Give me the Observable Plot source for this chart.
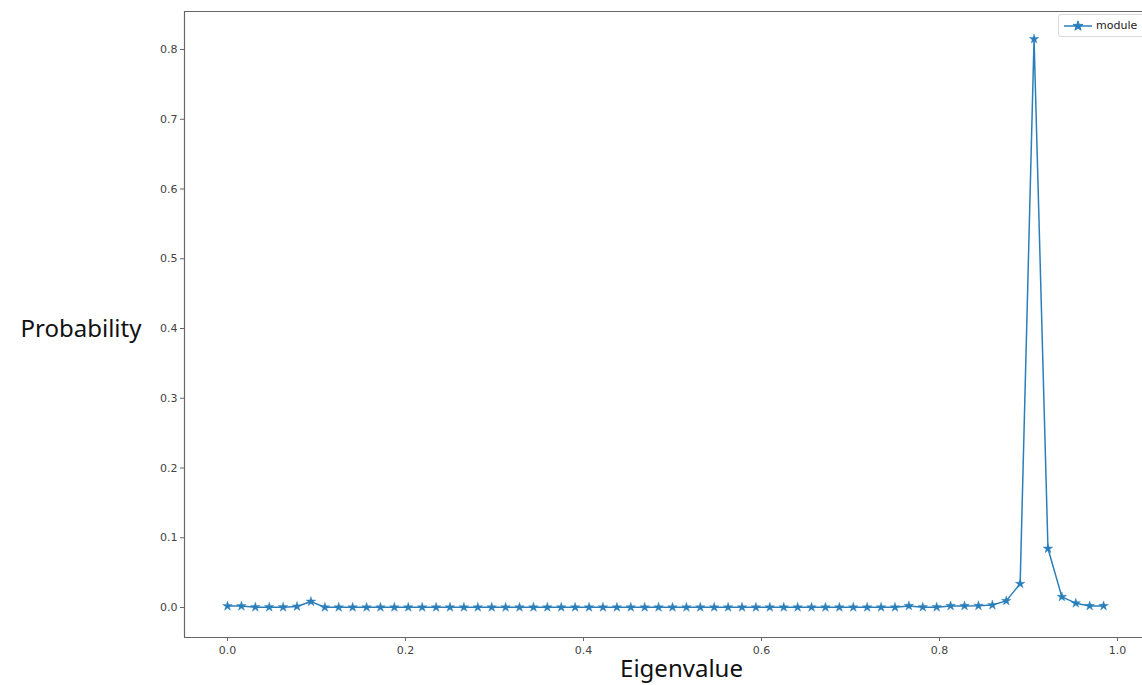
<!DOCTYPE html>
<html>
<head>
<meta charset="utf-8">
<script src="https://cdn.jsdelivr.net/npm/d3@7"></script>
<script src="https://cdn.jsdelivr.net/npm/@observablehq/plot@0.6"></script>
<style>
  html, body { margin: 0; padding: 0; background: #fff; }
  #wrap { position: relative; width: 1142px; height: 685px; overflow: hidden; }
  #legend { position: absolute; left: 1058px; top: 14px; width: 90px; height: 23px;
    border: 1px solid #d9d9d9; border-radius: 3px; background: #fff;
    font-family: "DejaVu Sans", sans-serif; font-size: 11px; color: #222; box-sizing: border-box; }
  #legend svg { position: absolute; left: 4px; top: 3px; }
  #legend span { position: absolute; left: 37px; top: 4px; }
</style>
</head>
<body>
<div id="wrap"><div id="legend"><svg width="30" height="16"><line x1="1" y1="8" x2="29" y2="8" stroke="#2a7fba" stroke-width="1.5"/><path id="legstar" fill="#2a7fba" stroke="#2a7fba"/></svg><span>module</span></div></div>
<script>
// Eigenvalues: k/64 for k = 0..63
const eigenvalues = d3.range(64).map(k => k / 64);
// Probability
const probability = [
  0.002, 0.002, 0.0005, 0.0005, 0.0005, 0.0015, 0.0085, 0.0003, 0.0003, 0.0003,
  0.0003, 0.0003, 0.0003, 0.0003, 0.0003, 0.0003, 0.0003, 0.0003, 0.0003, 0.0003,
  0.0003, 0.0003, 0.0003, 0.0003, 0.0003, 0.0003, 0.0003, 0.0003, 0.0003, 0.0003,
  0.0003, 0.0003, 0.0003, 0.0003, 0.0003, 0.0003, 0.0003, 0.0003, 0.0003, 0.0003,
  0.0003, 0.0003, 0.0003, 0.0003, 0.0003, 0.0003, 0.0003, 0.0003, 0.0003, 0.0023,
  0.0005, 0.0005, 0.0023, 0.0023, 0.0025, 0.0035, 0.0095, 0.034, 0.815, 0.0845,
  0.0153, 0.0062, 0.0023, 0.0023
];
const xTicks = [0, 0.2, 0.4, 0.6, 0.8, 1.0];
const yTicks = [0, 0.1, 0.2, 0.3, 0.4, 0.5, 0.6, 0.7, 0.8];
const seriesName = "module";

const data = eigenvalues.map((e, i) => ({eigenvalue: e, probability: probability[i], series: seriesName}));

const xDomain = [-0.0483, 1.0281];
const yDomain = [-0.043, 0.8545];
const blue = "#2a7fba";
const spine = "#666";

const chart = Plot.plot({
  width: 1142,
  height: 685,
  marginLeft: 184,
  marginRight: 0,
  marginTop: 11,
  marginBottom: 48,
  style: {fontFamily: "DejaVu Sans, sans-serif", fontSize: "11px", color: "#444", background: "#fff"},
  x: {domain: xDomain, ticks: xTicks, tickFormat: d3.format(".1f"), tickSize: 4, tickPadding: 4, label: null},
  y: {domain: yDomain, ticks: yTicks, tickFormat: d3.format(".1f"), tickSize: 4, tickPadding: 4, label: null},
  marks: [
    Plot.ruleX([xDomain[0]], {stroke: spine, strokeWidth: 1.2}),
    Plot.ruleY([yDomain[0]], {stroke: spine, strokeWidth: 1.2}),
    Plot.ruleY([yDomain[1]], {stroke: spine, strokeWidth: 1.2}),
    Plot.axisX({ticks: xTicks, tickFormat: d3.format(".1f"), tickSize: 4, tickPadding: 5, stroke: spine, fill: "#444", label: null}),
    Plot.axisY({ticks: yTicks, tickFormat: d3.format(".1f"), tickSize: 4, tickPadding: 3, stroke: spine, fill: "#444", label: null}),
    Plot.line(data, {x: "eigenvalue", y: "probability", stroke: blue, strokeWidth: 1.5}),
    Plot.dot(data, {x: "eigenvalue", y: "probability", symbol: "star", r: 3, fill: blue, stroke: blue, strokeWidth: 0.4}),
    Plot.text(["Probability"], {frameAnchor: "left", textAnchor: "start", dx: -164, dy: 5, fontSize: 24, fontFamily: "Noto Sans, sans-serif", fill: "#111"}),
    Plot.text(["Eigenvalue"], {frameAnchor: "bottom", dx: 18, dy: 39, fontSize: 24, fontFamily: "Noto Sans, sans-serif", fill: "#111"})
  ]
});
document.getElementById("wrap").prepend(chart);
// legend star path from d3 symbol
document.getElementById("legstar").setAttribute("d", d3.symbol(d3.symbolStar, 30)());
document.getElementById("legstar").setAttribute("transform", "translate(15,8)");
</script>
</body>
</html>
